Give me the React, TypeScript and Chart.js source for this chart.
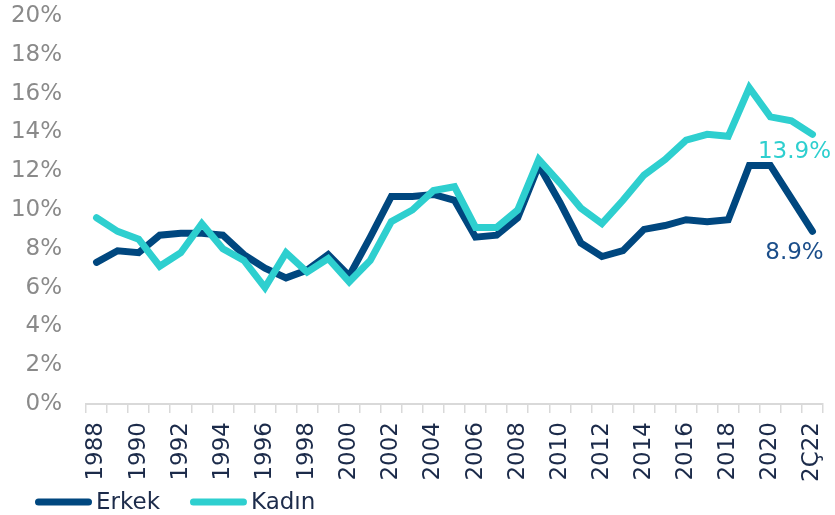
import React, { useEffect, useRef } from 'react';
import { Chart, registerables } from 'chart.js';

Chart.register(...registerables);

const categories: string[] = [
  '1988', '1989', '1990', '1991', '1992', '1993', '1994', '1995', '1996', '1997',
  '1998', '1999', '2000', '2001', '2002', '2003', '2004', '2005', '2006', '2007',
  '2008', '2009', '2010', '2011', '2012', '2013', '2014', '2015', '2016', '2017',
  '2018', '2019', '2020', '2021', '2Ç22',
];

const erkek: number[] = [
  7.3, 7.9, 7.8, 8.7, 8.8, 8.8, 8.7, 7.7, 7.0, 6.5,
  6.9, 7.7, 6.6, 8.6, 10.7, 10.7, 10.8, 10.5, 8.6, 8.7,
  9.6, 12.3, 10.4, 8.3, 7.6, 7.9, 9.0, 9.2, 9.5, 9.4,
  9.5, 12.3, 12.3, 10.6, 8.9,
];

const kadin: number[] = [
  9.6, 8.9, 8.5, 7.1, 7.8, 9.3, 8.0, 7.4, 6.0, 7.8,
  6.8, 7.5, 6.3, 7.4, 9.4, 10.0, 11.0, 11.2, 9.1, 9.1,
  10.0, 12.6, 11.4, 10.1, 9.3, 10.5, 11.8, 12.6, 13.6, 13.9,
  13.8, 16.3, 14.8, 14.6, 13.9,
];

const seriesNames = ['Erkek', 'Kadın'];
const yMin = 0;
const yMax = 20;
const yStep = 2;

const FONT = '"DejaVu Sans", "Liberation Sans", sans-serif';
const DARK = '#00477F';
const CYAN = '#2ECFCF';
const DARK_LABEL = '#1B4E8A';
const NAVY_TEXT = '#1C2B4A';
const GRAY_TEXT = '#8A8A8A';
const AXIS = '#D9D9D9';

const endLabelPlugin = {
  id: 'endLabels',
  afterDatasetsDraw(chart: any) {
    const ctx = chart.ctx;
    ctx.save();
    ctx.font = `23px ${FONT}`;
    ctx.textAlign = 'center';
    ctx.textBaseline = 'top';
    chart.data.datasets.forEach((ds: any, i: number) => {
      const meta = chart.getDatasetMeta(i);
      const pts = meta.data;
      const last = pts[pts.length - 1];
      const v = ds.data[ds.data.length - 1];
      ctx.fillStyle = ds.labelColor;
      ctx.fillText(`${v.toFixed(1)}%`, last.x - 18, last.y + ds.labelDy);
    });
    ctx.restore();
  },
};

const legendPlugin = {
  id: 'customLegend',
  afterDraw(chart: any) {
    const ctx = chart.ctx;
    ctx.save();
    ctx.font = `23px ${FONT}`;
    ctx.textBaseline = 'alphabetic';
    ctx.textAlign = 'left';
    const cy = 502;
    let x = 35;
    const lineLen = 57;
    const lw = 7;
    chart.data.datasets.forEach((ds: any) => {
      ctx.strokeStyle = ds.borderColor;
      ctx.lineWidth = lw;
      ctx.lineCap = 'round';
      ctx.beginPath();
      ctx.moveTo(x + lw / 2, cy);
      ctx.lineTo(x + lineLen - lw / 2, cy);
      ctx.stroke();
      const tx = x + lineLen + 4;
      ctx.fillStyle = NAVY_TEXT;
      ctx.fillText(ds.label, tx, cy + 7);
      x = tx + ctx.measureText(ds.label).width + 30;
    });
    ctx.restore();
  },
};

export default function App() {
  const canvasRef = useRef<HTMLCanvasElement | null>(null);

  useEffect(() => {
    document.body.style.margin = '0';
    const canvas = canvasRef.current;
    if (!canvas) return;
    const chart = new Chart(canvas, {
      type: 'line',
      data: {
        labels: categories,
        datasets: [
          {
            label: seriesNames[0],
            data: erkek,
            borderColor: DARK,
            backgroundColor: DARK,
            borderWidth: 7,
            borderCapStyle: 'round',
            pointRadius: 0,
            tension: 0,
            order: 1,
            labelColor: DARK_LABEL,
            labelDy: 10,
          } as any,
          {
            label: seriesNames[1],
            data: kadin,
            borderColor: CYAN,
            backgroundColor: CYAN,
            borderWidth: 7,
            borderCapStyle: 'round',
            pointRadius: 0,
            tension: 0,
            order: 0,
            labelColor: CYAN,
            labelDy: 6,
          } as any,
        ],
      },
      options: {
        responsive: false,
        animation: false,
        layout: { padding: { top: 16, right: 12, left: 0, bottom: 0 } },
        plugins: {
          legend: { display: false },
          tooltip: { enabled: false },
        },
        scales: {
          x: {
            type: 'category',
            offset: true,
            grid: {
              display: true,
              offset: true,
              drawOnChartArea: false,
              drawTicks: true,
              tickLength: 9,
              color: AXIS,
              lineWidth: 1.5,
            },
            border: { display: true, color: AXIS, width: 2 },
            ticks: {
              autoSkip: false,
              maxRotation: 90,
              minRotation: 90,
              padding: 9,
              color: NAVY_TEXT,
              font: { family: FONT, size: 23 },
              callback: (_v: any, idx: number) => (idx % 2 === 0 ? categories[idx] : ''),
            },
            afterFit: (scale: any) => {
              scale.height = 111;
              scale.paddingLeft = 0;
              scale.paddingRight = 0;
            },
          },
          y: {
            min: yMin,
            max: yMax,
            grid: { display: false, drawTicks: false },
            border: { display: false },
            ticks: {
              stepSize: yStep,
              padding: 24,
              color: GRAY_TEXT,
              font: { family: FONT, size: 23 },
              callback: (v: any) => `${v}%`,
            },
            afterFit: (scale: any) => {
              scale.width = 86;
              scale.paddingTop = 0;
              scale.paddingBottom = 0;
            },
          },
        },
      },
      plugins: [endLabelPlugin, legendPlugin],
    });
    return () => chart.destroy();
  }, []);

  return (
    <div style={{ width: 835, height: 515, position: 'relative', background: '#fff' }}>
      <canvas ref={canvasRef} width={835} height={515} />
    </div>
  );
}
